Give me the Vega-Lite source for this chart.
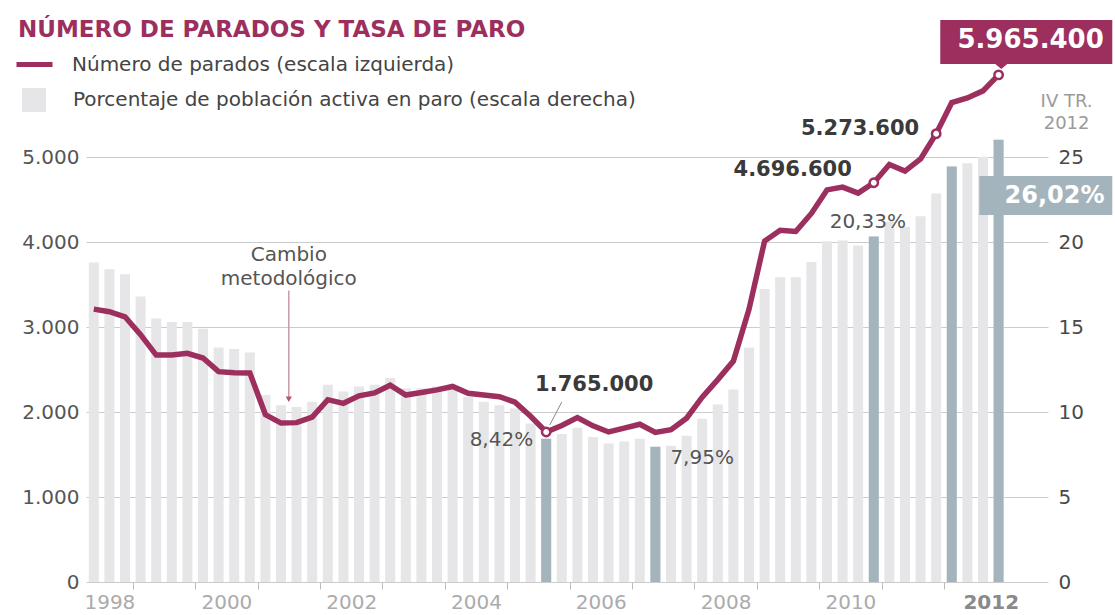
{
  "$schema": "https://vega.github.io/schema/vega-lite/v6.json",
  "width": 962,
  "height": 510,
  "autosize": {"type": "none"},
  "padding": {"left": 86, "top": 72, "right": 67, "bottom": 33},
  "background": "white",
  "config": {"view": {"stroke": null}, "font": "DejaVu Sans"},
  "title": {"text": "NÚMERO DE PARADOS Y TASA DE PARO", "anchor": "start", "frame": "group", "dx": -68, "offset": 30, "dy": 52, "font": "DejaVu Sans", "fontSize": 23, "fontWeight": "bold", "color": "#9c2f5d"},
  "datasets": {
    "epa": [
      {"t": 1998.375, "parados": 3210, "tasa": 18.8},
      {"t": 1998.625, "parados": 3180, "tasa": 18.4},
      {"t": 1998.875, "parados": 3120, "tasa": 18.1},
      {"t": 1999.125, "parados": 2910, "tasa": 16.8},
      {"t": 1999.375, "parados": 2670, "tasa": 15.5},
      {"t": 1999.625, "parados": 2670, "tasa": 15.3},
      {"t": 1999.875, "parados": 2690, "tasa": 15.3},
      {"t": 2000.125, "parados": 2635, "tasa": 14.9},
      {"t": 2000.375, "parados": 2475, "tasa": 13.8},
      {"t": 2000.625, "parados": 2463, "tasa": 13.7},
      {"t": 2000.875, "parados": 2460, "tasa": 13.5},
      {"t": 2001.125, "parados": 1970, "tasa": 11.0},
      {"t": 2001.375, "parados": 1870, "tasa": 10.4},
      {"t": 2001.625, "parados": 1875, "tasa": 10.3},
      {"t": 2001.875, "parados": 1940, "tasa": 10.6},
      {"t": 2002.125, "parados": 2145, "tasa": 11.6},
      {"t": 2002.375, "parados": 2102, "tasa": 11.2},
      {"t": 2002.625, "parados": 2190, "tasa": 11.5},
      {"t": 2002.875, "parados": 2225, "tasa": 11.6},
      {"t": 2003.125, "parados": 2315, "tasa": 12.0},
      {"t": 2003.375, "parados": 2200, "tasa": 11.4},
      {"t": 2003.625, "parados": 2230, "tasa": 11.4},
      {"t": 2003.875, "parados": 2260, "tasa": 11.5},
      {"t": 2004.125, "parados": 2300, "tasa": 11.5},
      {"t": 2004.375, "parados": 2220, "tasa": 10.9},
      {"t": 2004.625, "parados": 2200, "tasa": 10.6},
      {"t": 2004.875, "parados": 2180, "tasa": 10.4},
      {"t": 2005.125, "parados": 2115, "tasa": 10.2},
      {"t": 2005.375, "parados": 1950, "tasa": 9.33},
      {"t": 2005.625, "parados": 1765, "tasa": 8.42, "hl": true, "circ": true, "lab_n": "1.765.000", "lab_p": "8,42%"},
      {"t": 2005.875, "parados": 1841, "tasa": 8.70},
      {"t": 2006.125, "parados": 1935, "tasa": 9.07},
      {"t": 2006.375, "parados": 1837, "tasa": 8.53},
      {"t": 2006.625, "parados": 1765, "tasa": 8.15},
      {"t": 2006.875, "parados": 1810, "tasa": 8.26},
      {"t": 2007.125, "parados": 1856, "tasa": 8.42},
      {"t": 2007.375, "parados": 1760, "tasa": 7.95, "hl": true, "lab_p": "7,95%"},
      {"t": 2007.625, "parados": 1791, "tasa": 8.01},
      {"t": 2007.875, "parados": 1927, "tasa": 8.60},
      {"t": 2008.125, "parados": 2174, "tasa": 9.60},
      {"t": 2008.375, "parados": 2381, "tasa": 10.44},
      {"t": 2008.625, "parados": 2599, "tasa": 11.33},
      {"t": 2008.875, "parados": 3208, "tasa": 13.79},
      {"t": 2009.125, "parados": 4011, "tasa": 17.24},
      {"t": 2009.375, "parados": 4138, "tasa": 17.92},
      {"t": 2009.625, "parados": 4124, "tasa": 17.93},
      {"t": 2009.875, "parados": 4336, "tasa": 18.83},
      {"t": 2010.125, "parados": 4613, "tasa": 20.05},
      {"t": 2010.375, "parados": 4646, "tasa": 20.09},
      {"t": 2010.625, "parados": 4575, "tasa": 19.79},
      {"t": 2010.875, "parados": 4697, "tasa": 20.33, "hl": true, "circ": true, "lab_n": "4.696.600", "lab_p": "20,33%"},
      {"t": 2011.125, "parados": 4911, "tasa": 21.19},
      {"t": 2011.375, "parados": 4834, "tasa": 20.89},
      {"t": 2011.625, "parados": 4978, "tasa": 21.52},
      {"t": 2011.875, "parados": 5274, "tasa": 22.85, "circ": true, "lab_n": "5.273.600"},
      {"t": 2012.125, "parados": 5640, "tasa": 24.44, "hl": true},
      {"t": 2012.375, "parados": 5694, "tasa": 24.63},
      {"t": 2012.625, "parados": 5778, "tasa": 25.02},
      {"t": 2012.875, "parados": 5965.4, "tasa": 26.02, "hl": true, "circ": true, "lab_n": "5.965.400", "lab_p": "26,02%"}
    ],
    "notas": [
      {"t": 2001.5, "v": 3847, "texto": "Cambio"},
      {"t": 2001.5, "v": 3565, "texto": "metodológico"}
    ],
    "flecha": [
      {"t": 2001.5, "v": 3430, "v2": 2150}
    ]
  },
  "data": {"name": "epa"},
  "encoding": {
    "x": {
      "field": "t", "type": "quantitative",
      "scale": {"domain": [1998.25, 2013.667], "nice": false, "zero": false, "padding": 0},
      "axis": {
        "title": null,
        "values": [1998.625, 1999, 2000, 2000.5, 2001, 2002, 2002.5, 2003, 2004, 2004.5, 2005, 2006, 2006.5, 2007, 2008, 2008.5, 2009, 2010, 2010.5, 2011, 2012, 2012.75],
        "labelExpr": "datum.value % 1 == 0 ? '' : '' + floor(datum.value)",
        "grid": false, "domain": false,
        "tickSize": 7, "tickColor": "#bbbbbb",
        "tickOpacity": {"condition": {"test": "datum.value % 1 == 0", "value": 1}, "value": 0},
        "labelFont": "DejaVu Sans", "labelFontSize": 20,
        "labelColor": {"condition": {"test": "datum.value > 2012", "value": "#8a8a8a"}, "value": "#ababab"},
        "labelFontWeight": {"condition": {"test": "datum.value > 2012", "value": "bold"}, "value": "normal"},
        "labelPadding": 3, "labelOverlap": false, "labelFlush": false, "labelBound": false
      }
    }
  },
  "layer": [
    {
      "encoding": {
        "y": {
          "field": "tasa", "type": "quantitative",
          "scale": {"domain": [0, 30], "nice": false},
          "axis": {"orient": "right", "title": null, "values": [0, 5, 10, 15, 20, 25], "grid": false, "domain": false, "ticks": false, "tickSize": 0, "labelPadding": 10, "labelFont": "DejaVu Sans", "labelFontSize": 20, "labelColor": "#4a4a4a"}
        }
      },
      "layer": [
        {
          "mark": {"type": "bar", "orient": "vertical", "size": 10},
          "encoding": {
            "fill": {
              "datum": "Porcentaje de población activa en paro (escala derecha)", "type": "nominal",
              "scale": {"range": ["#e6e6e8"]},
              "legend": {"orient": "none", "legendX": -64, "legendY": 16, "title": null, "padding": 0, "symbolType": "square", "symbolSize": 576, "symbolStrokeWidth": 0, "labelOffset": 27, "labelFont": "DejaVu Sans", "labelFontSize": 20, "labelColor": "#444444", "labelLimit": 800}
            }
          }
        },
        {
          "transform": [{"filter": "datum.hl"}],
          "mark": {"type": "bar", "orient": "vertical", "size": 10, "color": "#a4b4bc"}
        },
        {
          "transform": [{"filter": "datum.t == 2005.625"}],
          "mark": {"type": "text", "align": "right", "baseline": "middle", "dx": -13, "dy": 1, "fontSize": 20, "color": "#555555"},
          "encoding": {"text": {"field": "lab_p"}}
        },
        {
          "transform": [{"filter": "datum.t == 2007.375"}],
          "mark": {"type": "text", "align": "left", "baseline": "middle", "dx": 15, "dy": 11, "fontSize": 20, "color": "#555555"},
          "encoding": {"text": {"field": "lab_p"}}
        },
        {
          "transform": [{"filter": "datum.t == 2010.875"}],
          "mark": {"type": "text", "align": "center", "baseline": "middle", "dx": -6, "dy": -14, "fontSize": 20, "color": "#555555"},
          "encoding": {"text": {"field": "lab_p"}}
        },
        {
          "transform": [{"filter": "datum.t == 2012.875"}],
          "mark": {"type": "point", "shape": "M-0.386,0.726L2.274,0.726L2.274,1.506L-0.386,1.506Z", "size": 10000, "filled": true, "color": "#a4b4bc", "opacity": 1, "strokeWidth": 0}
        },
        {
          "transform": [{"filter": "datum.t == 2012.875"}],
          "mark": {"type": "text", "align": "center", "baseline": "middle", "dx": 56, "dy": 56, "fontSize": 24, "fontWeight": "bold", "color": "#ffffff"},
          "encoding": {"text": {"field": "lab_p"}}
        }
      ]
    },
    {
      "encoding": {
        "y": {
          "field": "v", "type": "quantitative",
          "scale": {"domain": [0, 6000], "nice": false},
          "axis": null
        }
      },
      "layer": [
        {
          "data": {"name": "flecha"},
          "mark": {"type": "rule", "color": "#c99aa5", "strokeWidth": 1.5},
          "encoding": {"y2": {"field": "v2"}}
        },
        {
          "data": {"name": "flecha"},
          "mark": {"type": "point", "shape": "triangle-down", "size": 40, "filled": true, "color": "#b05a70", "opacity": 1},
          "encoding": {"y": {"field": "v2", "type": "quantitative"}}
        },
        {
          "data": {"name": "notas"},
          "mark": {"type": "text", "align": "center", "baseline": "middle", "fontSize": 20, "color": "#555555"},
          "encoding": {"text": {"field": "texto"}}
        }
      ]
    },
    {
      "encoding": {
        "y": {
          "field": "parados", "type": "quantitative",
          "scale": {"domain": [0, 6000], "nice": false},
          "axis": {"orient": "left", "title": null, "values": [0, 1000, 2000, 3000, 4000, 5000], "labelExpr": "replace(format(datum.value, ','), ',', '.')", "grid": true, "gridColor": "#cccccc", "gridWidth": 1, "domain": false, "ticks": false, "tickSize": 0, "labelPadding": 7, "labelFont": "DejaVu Sans", "labelFontSize": 20, "labelColor": "#555555"}
        }
      },
      "layer": [
        {
          "mark": {"type": "line", "strokeWidth": 5.5},
          "encoding": {
            "stroke": {
              "datum": "Número de parados (escala izquierda)", "type": "nominal",
              "scale": {"range": ["#9c2f5d"]},
              "legend": {"orient": "none", "legendX": -72, "legendY": -28, "title": null, "padding": 0, "symbolType": "stroke", "symbolSize": 1296, "symbolStrokeWidth": 5, "labelOffset": 17, "labelFont": "DejaVu Sans", "labelFontSize": 20, "labelColor": "#444444", "labelLimit": 800}
            }
          }
        },
        {
          "transform": [{"filter": "datum.circ"}],
          "mark": {"type": "point", "filled": true, "fill": "#ffffff", "stroke": "#9c2f5d", "strokeWidth": 2.5, "size": 70, "opacity": 1}
        },
        {
          "transform": [{"filter": "datum.t == 2005.625"}],
          "mark": {"type": "point", "shape": "M0.072,-0.14L0.312,-0.6", "size": 10000, "filled": false, "stroke": "#888888", "strokeWidth": 1, "opacity": 1}
        },
        {
          "transform": [{"filter": "datum.t == 2005.625"}],
          "mark": {"type": "text", "align": "center", "baseline": "middle", "dx": 48, "dy": -47, "fontSize": 21, "fontWeight": "bold", "color": "#3a3a3a"},
          "encoding": {"text": {"field": "lab_n"}}
        },
        {
          "transform": [{"filter": "datum.t == 2010.875"}],
          "mark": {"type": "text", "align": "right", "baseline": "middle", "dx": -22, "dy": -13, "fontSize": 21, "fontWeight": "bold", "color": "#3a3a3a"},
          "encoding": {"text": {"field": "lab_n"}}
        },
        {
          "transform": [{"filter": "datum.t == 2011.875"}],
          "mark": {"type": "text", "align": "right", "baseline": "middle", "dx": -17, "dy": -5, "fontSize": 21, "fontWeight": "bold", "color": "#3a3a3a"},
          "encoding": {"text": {"field": "lab_n"}}
        },
        {
          "transform": [{"filter": "datum.t == 2012.875"}],
          "mark": {"type": "point", "shape": "M-1.166,-1.098L2.274,-1.098L2.274,-0.218L0.174,-0.218L0.054,-0.118L-0.066,-0.218L-1.166,-0.218Z", "size": 10000, "filled": true, "color": "#9c2f5d", "opacity": 1, "strokeWidth": 0}
        },
        {
          "transform": [{"filter": "datum.t == 2012.875"}],
          "mark": {"type": "text", "align": "center", "baseline": "middle", "dx": 32, "dy": -35, "fontSize": 26, "fontWeight": "bold", "color": "#ffffff"},
          "encoding": {"text": {"field": "lab_n"}}
        },
        {
          "transform": [{"filter": "datum.t == 2012.875"}],
          "mark": {"type": "text", "text": ["IV TR.", "2012"], "lineHeight": 22, "align": "center", "baseline": "middle", "dx": 68, "dy": 27, "fontSize": 18, "color": "#9a9a9a"}
        }
      ]
    }
  ],
  "resolve": {"scale": {"y": "independent"}}
}
